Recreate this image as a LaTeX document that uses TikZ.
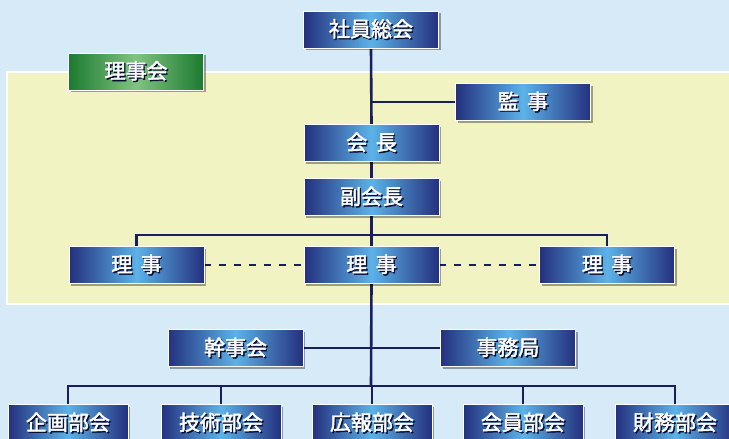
\documentclass[tikz,border=0pt]{standalone}
\usepackage{fontspec}
\usetikzlibrary{shadows}
\newfontfamily\jp[FakeBold=2.2]{Noto Sans CJK JP}
\definecolor{bgblue}{RGB}{214,234,248}
\definecolor{panelyel}{RGB}{241,243,194}
\definecolor{bdark}{RGB}{36,48,126}
\definecolor{blight}{RGB}{92,178,232}
\definecolor{gdark}{RGB}{28,122,48}
\definecolor{glight}{RGB}{128,196,128}
\definecolor{linec}{RGB}{24,30,96}
\definecolor{tshadow}{RGB}{10,15,50}
\newcommand\lbl[1]{\rlap{\kern1.4pt\raisebox{-1.4pt}{\color{tshadow}#1}}\textcolor{white}{#1}}
\pgfdeclarelayer{back}
\pgfdeclarelayer{mid}
\pgfsetlayers{back,mid,main}
\tikzset{
  orgbox/.style={draw=white, line width=0.9pt, minimum width=135pt, minimum height=37pt,
    inner sep=0pt, left color=bdark, right color=bdark, middle color=blight,
    drop shadow={shadow xshift=2pt, shadow yshift=-2pt, opacity=0.35, fill=black},
    font=\jp\fontsize{21}{24}\selectfont},
  greenbox/.style={orgbox, left color=gdark, right color=gdark, middle color=glight},
  smallbox/.style={orgbox, minimum width=120pt},
  conn/.style={draw=linec, line width=2.6pt},
  dashconn/.style={draw=linec, line width=2.6pt, dash pattern=on 7pt off 8pt},
}
\begin{document}
\begin{tikzpicture}[x=1pt,y=-1pt]
\useasboundingbox (0,0) rectangle (729,439);
\begin{pgfonlayer}{back}
  \fill[bgblue] (0,0) rectangle (729,439);
  \draw[white, line width=2.5pt, fill=panelyel] (7,72) rectangle (745,304);
\end{pgfonlayer}
% nodes
\node[orgbox] (sou) at (371,29.5) {\lbl{社員総会}};
\node[greenbox] (rjk) at (136,71.5) {\lbl{理事会}};
\node[orgbox] (kan) at (523,102) {\lbl{監\hspace{0.4em}事}};
\node[orgbox] (kai) at (371.5,143) {\lbl{会\hspace{0.4em}長}};
\node[orgbox] (fuk) at (371.5,197) {\lbl{副会長}};
\node[orgbox] (rl) at (136.5,265) {\lbl{理\hspace{0.4em}事}};
\node[orgbox] (rc) at (371.5,265) {\lbl{理\hspace{0.4em}事}};
\node[orgbox] (rr) at (607,265) {\lbl{理\hspace{0.4em}事}};
\node[orgbox] (kjk) at (235.5,348) {\lbl{幹事会}};
\node[orgbox] (jmk) at (508,348) {\lbl{事務局}};
\node[smallbox] (b1) at (68,423) {\lbl{企画部会}};
\node[smallbox] (b2) at (221,423) {\lbl{技術部会}};
\node[smallbox] (b3) at (372,423) {\lbl{広報部会}};
\node[smallbox] (b4) at (523,423) {\lbl{会員部会}};
\node[smallbox] (b5) at (675,423) {\lbl{財務部会}};
\coordinate (kanj) at (371,102);
\coordinate (rj) at (371,235);
\coordinate (bj) at (371,386);
\begin{pgfonlayer}{mid}
  \draw[conn] (sou.south) -- (kai.north);
  \draw[conn] (kanj) -- (kan.west);
  \draw[conn] (kai.south) -- (fuk.north);
  \draw[conn] (fuk.south) -- (rc.north);
  \draw[conn] (rl.north) |- (rj) -| (rr.north);
  \draw[dashconn] (rl.east) -- (rc.west);
  \draw[dashconn] (rc.east) -- (rr.west);
  \draw[conn] (rc.south) -- (bj);
  \draw[conn] (kjk.east) -- (jmk.west);
  \draw[conn] (b1.north) |- (bj) -| (b5.north);
  \draw[conn] (b2.north) -- (b2.north |- bj);
  \draw[conn] (b3.north) -- (b3.north |- bj);
  \draw[conn] (b4.north) -- (b4.north |- bj);
\end{pgfonlayer}
\end{tikzpicture}
\end{document}
